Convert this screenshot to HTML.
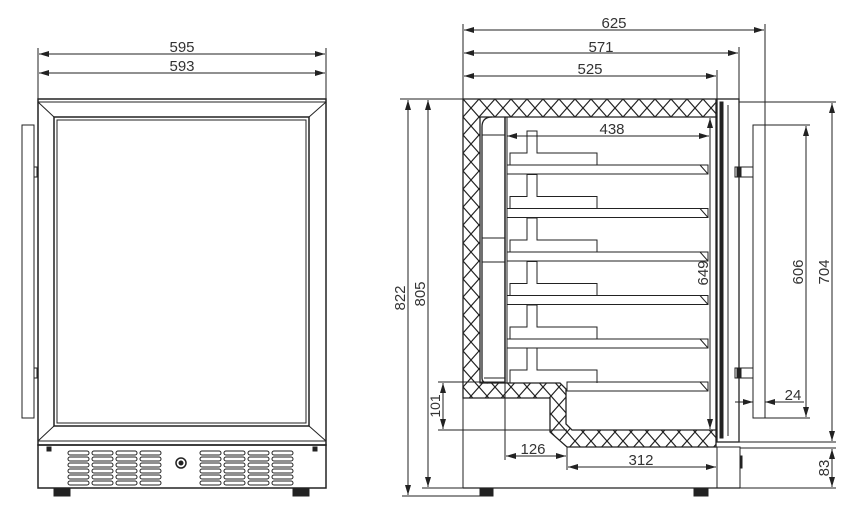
<!DOCTYPE html>
<html><head><meta charset="utf-8"><style>
html,body{margin:0;padding:0;background:#fff}
svg{display:block}
text{font-family:"Liberation Sans",sans-serif;font-size:15px;fill:#333}
</style></head><body>
<svg width="864" height="518" viewBox="0 0 864 518" xmlns="http://www.w3.org/2000/svg">
<defs>
<pattern id="h" width="16" height="18" patternUnits="userSpaceOnUse" x="463" y="99">
<path d="M0,0 L16,18 M16,0 L0,18" stroke="#222" stroke-width="1.2" fill="none"/>
</pattern>
<marker id="a" viewBox="0 0 10 6" refX="10" refY="3" markerWidth="10" markerHeight="6" orient="auto-start-reverse" markerUnits="userSpaceOnUse">
<path d="M0,0 L10,3 L0,6 Z" fill="#222"/>
</marker>
</defs>
<g stroke="#222" fill="none" stroke-width="1">
<line x1="38" y1="48" x2="38" y2="99"/><line x1="326" y1="48" x2="326" y2="99"/>
<line x1="39" y1="54" x2="325" y2="54" marker-start="url(#a)" marker-end="url(#a)"/>
<line x1="39" y1="73" x2="325" y2="73" marker-start="url(#a)" marker-end="url(#a)"/>
<rect x="38" y="99" width="288" height="346" stroke-width="1.5"/>
<line x1="38" y1="102" x2="326" y2="102"/>
<rect x="54" y="117" width="255" height="309" stroke-width="1.5"/>
<rect x="57" y="120" width="249" height="303"/>
<line x1="38" y1="102" x2="54" y2="117"/><line x1="326" y1="102" x2="309" y2="117"/>
<line x1="38" y1="441" x2="54" y2="426"/><line x1="326" y1="441" x2="309" y2="426"/>
<line x1="38" y1="441" x2="326" y2="441"/>
<rect x="22" y="125" width="12" height="293"/>
<rect x="34" y="167" width="3" height="10"/><rect x="34" y="368" width="3" height="10"/>
<rect x="38" y="445" width="288" height="43" stroke-width="1.5"/>
<rect x="54" y="488" width="16" height="8" fill="#222"/><rect x="293" y="488" width="16" height="8" fill="#222"/>
<rect x="47" y="447" width="4" height="4" fill="#222"/><rect x="313" y="447" width="4" height="4" fill="#222"/>
<circle cx="181" cy="463" r="5" stroke-width="1.5"/><circle cx="181" cy="463" r="2" fill="#222"/>
<g id="v">
<rect x="68" y="451" width="21" height="4" rx="2"/><rect x="68" y="457" width="21" height="4" rx="2"/><rect x="68" y="463" width="21" height="4" rx="2"/><rect x="68" y="469" width="21" height="4" rx="2"/><rect x="68" y="475" width="21" height="4" rx="2"/><rect x="68" y="481" width="21" height="4" rx="2"/>
</g>
<use href="#v" x="24"/><use href="#v" x="48"/><use href="#v" x="72"/>
<use href="#v" x="132"/><use href="#v" x="156"/><use href="#v" x="180"/><use href="#v" x="204"/>

<line x1="463" y1="24" x2="463" y2="99"/>
<line x1="765" y1="24" x2="765" y2="125"/>
<line x1="739" y1="47" x2="739" y2="99"/>
<line x1="717" y1="70" x2="717" y2="99"/>
<line x1="464" y1="30" x2="764" y2="30" marker-start="url(#a)" marker-end="url(#a)"/>
<line x1="464" y1="53" x2="738" y2="53" marker-start="url(#a)" marker-end="url(#a)"/>
<line x1="464" y1="76" x2="716" y2="76" marker-start="url(#a)" marker-end="url(#a)"/>
<line x1="400" y1="99" x2="463" y2="99"/>
<line x1="402" y1="496" x2="480" y2="496"/>
<line x1="422" y1="488" x2="463" y2="488"/>
<line x1="408" y1="100" x2="408" y2="495" marker-start="url(#a)" marker-end="url(#a)"/>
<line x1="428" y1="100" x2="428" y2="487" marker-start="url(#a)" marker-end="url(#a)"/>
<path d="M463,99 L716,99 L716,447 L567,447 L550,432 L550,398 L463,398 Z M480,117 L716,117 L716,430 L572,430 L566,424 L566,389 L560,383 L480,383 Z" fill="url(#h)" fill-rule="evenodd" stroke-width="1.3"/>
<line x1="463" y1="398" x2="463" y2="488"/>
<line x1="463" y1="488" x2="740" y2="488" stroke-width="1.3"/>
<rect x="717" y="447" width="23" height="41"/>
<rect x="740" y="456" width="2" height="12" fill="#222"/>
<rect x="480" y="488" width="13" height="8" fill="#222"/><rect x="694" y="488" width="14" height="8" fill="#222"/>
<path d="M505,117 L505,383" stroke-width="1.5"/><path d="M507,117 L507,383"/>
<path d="M492,117 Q482,117 482,127 L482,378 Q482,383 488,383" stroke-width="1.3"/>
<line x1="482" y1="135" x2="505" y2="135"/><line x1="482" y1="238" x2="505" y2="238"/><line x1="482" y1="262" x2="505" y2="262"/>
<line x1="484" y1="378" x2="505" y2="378"/>
<g id="s">
<rect x="507" y="165" width="201" height="9"/>
<line x1="700" y1="165" x2="708" y2="174"/>
<path d="M510,165 L510,153 L527,153 L527,131 L537,131 L537,153 L597,153 L597,165"/>
</g>
<use href="#s" y="43.5"/><use href="#s" y="87"/><use href="#s" y="130.5"/><use href="#s" y="174"/>
<path d="M527,348 L527,370 L510,370 L510,383 M537,348 L537,370 L597,370 L597,383"/>
<rect x="567" y="382" width="141" height="9"/>
<line x1="700" y1="382" x2="708" y2="391"/>
<rect x="717" y="99" width="22" height="343" stroke-width="1.3"/>
<rect x="720" y="102" width="3" height="336" fill="#222"/>
<line x1="728" y1="105" x2="728" y2="436"/>
<rect x="735" y="167" width="18" height="10"/><rect x="735" y="368" width="18" height="10"/>
<rect x="737" y="168" width="4" height="8" fill="#222"/><rect x="737" y="369" width="4" height="8" fill="#222"/>
<rect x="753" y="125" width="12" height="293"/>
<line x1="739" y1="102" x2="836" y2="102"/>
<line x1="739" y1="442" x2="836" y2="442"/>
<line x1="740" y1="448" x2="836" y2="448"/>
<line x1="740" y1="488" x2="836" y2="488"/>
<line x1="765" y1="125" x2="810" y2="125"/>
<line x1="765" y1="418" x2="810" y2="418"/>
<line x1="806" y1="126" x2="806" y2="417" marker-start="url(#a)" marker-end="url(#a)"/>
<line x1="832" y1="103" x2="832" y2="441" marker-start="url(#a)" marker-end="url(#a)"/>
<line x1="832" y1="449" x2="832" y2="487" marker-start="url(#a)" marker-end="url(#a)"/>
<line x1="735" y1="402" x2="753" y2="402" marker-end="url(#a)"/>
<line x1="785" y1="402" x2="765" y2="402" marker-end="url(#a)"/>
<line x1="765" y1="402" x2="804" y2="402"/>
<line x1="507" y1="136" x2="709" y2="136" marker-start="url(#a)" marker-end="url(#a)"/>
<line x1="710" y1="118" x2="710" y2="429" marker-start="url(#a)" marker-end="url(#a)"/>
<line x1="438" y1="382" x2="505" y2="382"/>
<line x1="438" y1="430" x2="567" y2="430"/>
<line x1="443" y1="383" x2="443" y2="429" marker-start="url(#a)" marker-end="url(#a)"/>
<line x1="505" y1="383" x2="505" y2="460"/>
<line x1="567" y1="447" x2="567" y2="470"/>
<line x1="506" y1="456" x2="566" y2="456" marker-start="url(#a)" marker-end="url(#a)"/>
<line x1="568" y1="467" x2="716" y2="467" marker-start="url(#a)" marker-end="url(#a)"/>
</g>
<text x="182" y="52" text-anchor="middle">595</text>
<text x="182" y="71" text-anchor="middle">593</text>
<text x="614" y="28" text-anchor="middle">625</text>
<text x="601" y="52" text-anchor="middle">571</text>
<text x="590" y="74" text-anchor="middle">525</text>
<text x="612" y="134" text-anchor="middle">438</text>
<text x="533" y="454" text-anchor="middle">126</text>
<text x="641" y="465" text-anchor="middle">312</text>
<text x="793" y="400" text-anchor="middle">24</text>
<text transform="translate(405,298) rotate(-90)" text-anchor="middle">822</text>
<text transform="translate(425,294) rotate(-90)" text-anchor="middle">805</text>
<text transform="translate(440,406) rotate(-90)" text-anchor="middle" style="font-size:14px">101</text>
<text transform="translate(708,273) rotate(-90)" text-anchor="middle">649</text>
<text transform="translate(803,272) rotate(-90)" text-anchor="middle">606</text>
<text transform="translate(829,272) rotate(-90)" text-anchor="middle">704</text>
<text transform="translate(829,468) rotate(-90)" text-anchor="middle">83</text>
</svg>
</body></html>
